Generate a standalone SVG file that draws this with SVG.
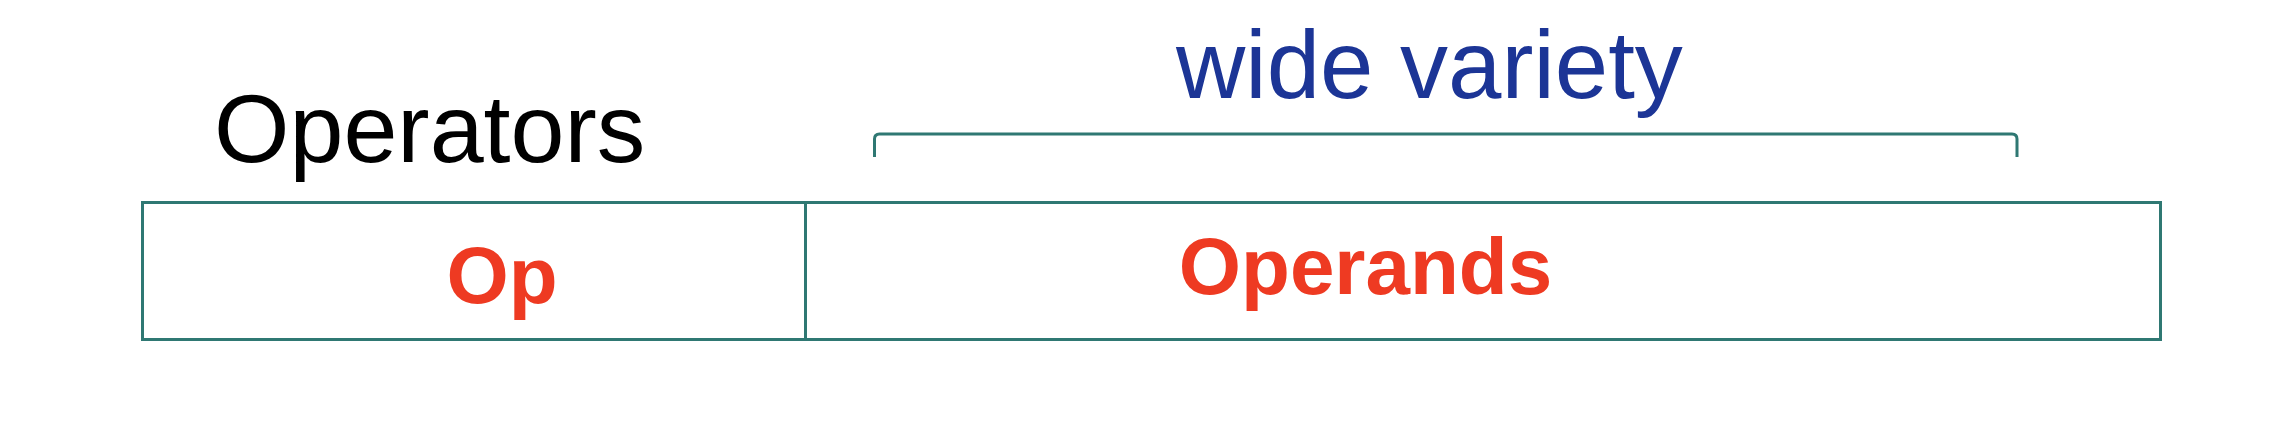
<svg xmlns="http://www.w3.org/2000/svg" width="2282" height="444" viewBox="0 0 2282 444">
<style>
.ln{fill:none;stroke:#2f7873;stroke-width:3}
.lbl{font-family:"Liberation Sans",Arial,sans-serif}
.red{fill:#ee3a22;font-weight:bold;font-size:80px}
</style>
<rect width="2282" height="444" fill="#ffffff"/>
<g id="connectors">
<path class="ln" d="M874.5,157 L874.5,139 Q874.5,134 879.5,134 L2012,134 Q2017,134 2017,139 L2017,157"/>
</g>
<g id="op-field">
<rect class="ln" x="142.5" y="202.5" width="663" height="137"/>
<text class="lbl red" x="502" y="303" text-anchor="middle">Op</text>
</g>
<g id="operands-field">
<rect class="ln" x="805.5" y="202.5" width="1355" height="137"/>
<text class="lbl red" x="1365.5" y="294" text-anchor="middle">Operands</text>
</g>
<g id="operators-label">
<text class="lbl" x="214" y="162" font-size="97" fill="#000000">Operators</text>
</g>
<g id="wide-variety-label">
<text class="lbl" x="1176" y="98" font-size="96" fill="#1c3596">wide variety</text>
</g>
</svg>
